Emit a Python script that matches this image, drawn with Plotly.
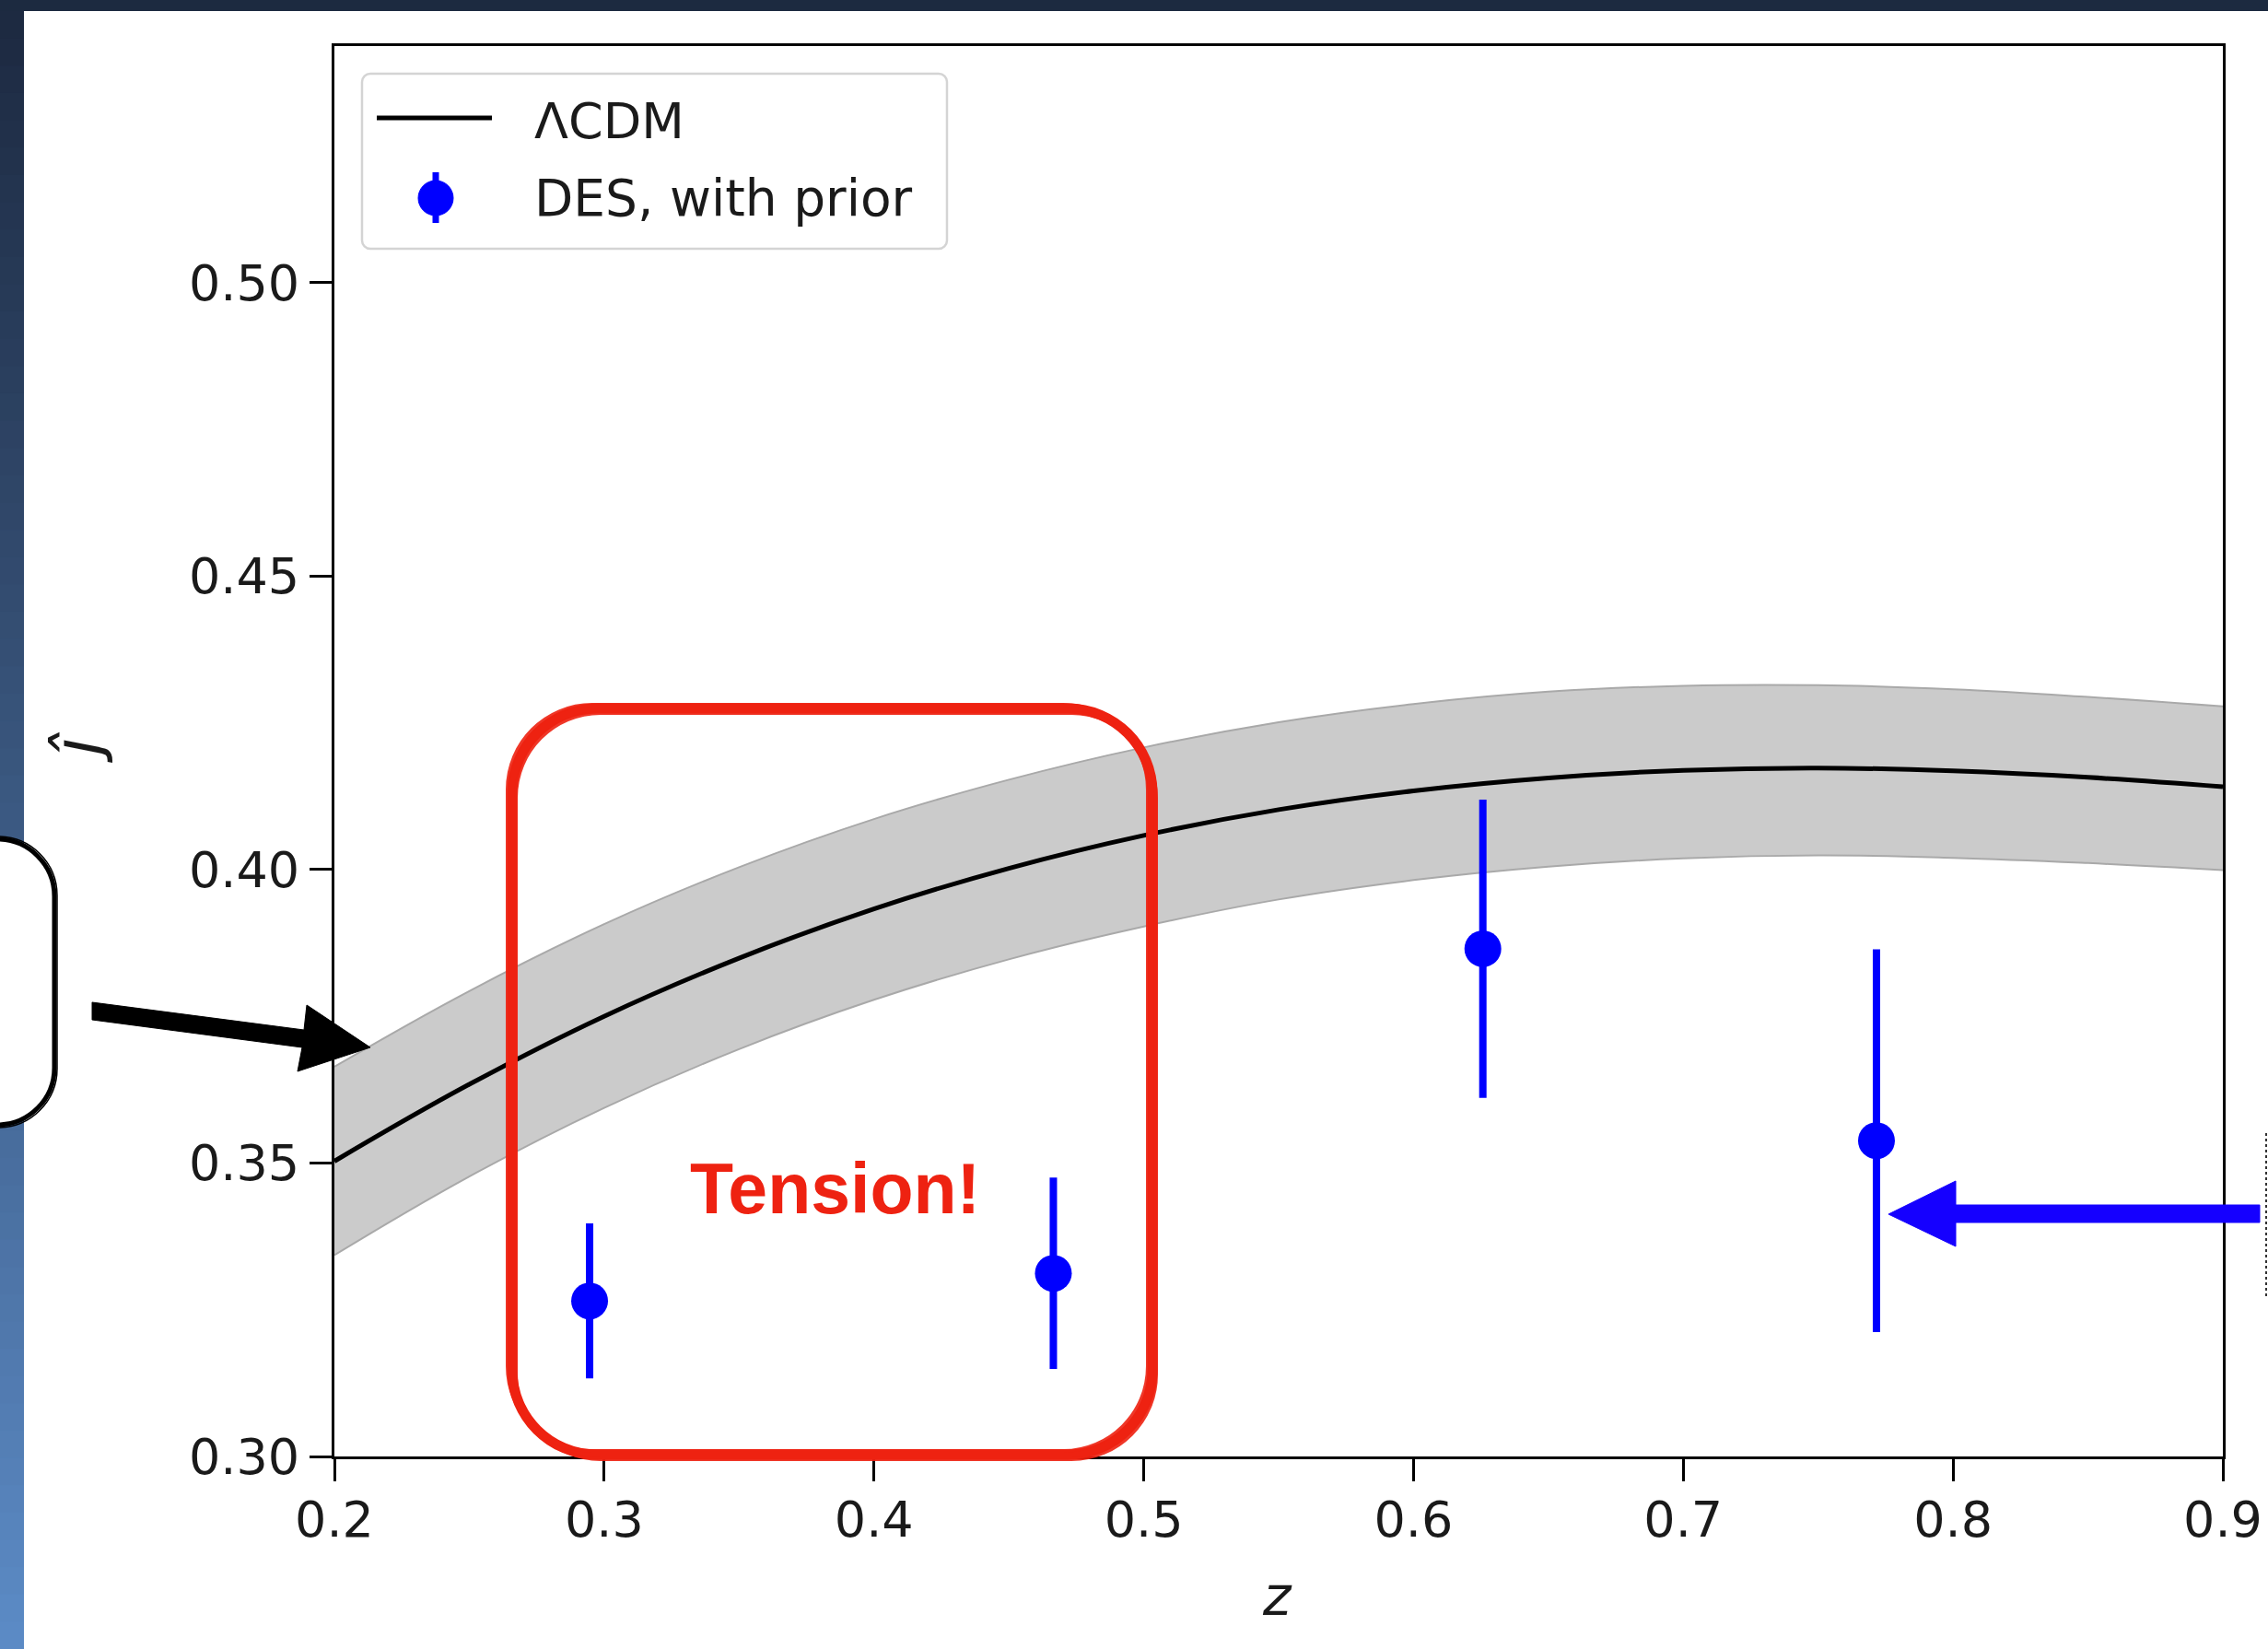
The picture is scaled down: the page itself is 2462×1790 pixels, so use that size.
import plotly.graph_objects as go

# ---------------- data ----------------
z_model = [0.20, 0.25, 0.30, 0.35, 0.40, 0.45, 0.50, 0.55, 0.60, 0.65, 0.70, 0.75, 0.80, 0.85, 0.90]
j_model = [0.3503, 0.3634, 0.3750, 0.3849, 0.3933, 0.4002, 0.4058, 0.4102, 0.4134, 0.4156, 0.4169, 0.4173, 0.4168, 0.4157, 0.4141]
j_upper = [0.3664, 0.3793, 0.3907, 0.4004, 0.4086, 0.4153, 0.4208, 0.4251, 0.4282, 0.4303, 0.4313, 0.4314, 0.4307, 0.4294, 0.4278]
j_lower = [0.3343, 0.3477, 0.3594, 0.3694, 0.3778, 0.3847, 0.3903, 0.3949, 0.3982, 0.4005, 0.4019, 0.4024, 0.4020, 0.4011, 0.3999]

z_des = [0.2946, 0.4665, 0.6257, 0.7716]
j_des = [0.3265, 0.3312, 0.3865, 0.3538]
j_des_err = [0.0132, 0.0163, 0.0254, 0.0326]

x_ticks = [0.2, 0.3, 0.4, 0.5, 0.6, 0.7, 0.8, 0.9]
x_tick_labels = ["0.2", "0.3", "0.4", "0.5", "0.6", "0.7", "0.8", "0.9"]
y_ticks = [0.30, 0.35, 0.40, 0.45, 0.50]
y_tick_labels = ["0.30", "0.35", "0.40", "0.45", "0.50"]

legend_labels = ["ΛCDM", "DES, with prior"]
note_text = "Tension!"

# ---------------- geometry ----------------
W, H = 2462, 1790
PL, PR, PT, PB = 363, 2413, 50, 1581
FONT = "DejaVu Sans"


def X(px):
    return (px - PL) / (PR - PL)


def Y(py):
    return (PB - py) / (PB - PT)


def rrect(x0, y0, x1, y1, r, dx=0.0, dy=0.0):
    k = 0.5523 * r
    x0 += dx; x1 += dx; y0 += dy; y1 += dy
    pts = [
        ("M", [(x0 + r, y0)]),
        ("L", [(x1 - r, y0)]),
        ("C", [(x1 - r + k, y0), (x1, y0 + r - k), (x1, y0 + r)]),
        ("L", [(x1, y1 - r)]),
        ("C", [(x1, y1 - r + k), (x1 - r + k, y1), (x1 - r, y1)]),
        ("L", [(x0 + r, y1)]),
        ("C", [(x0 + r - k, y1), (x0, y1 - r + k), (x0, y1 - r)]),
        ("L", [(x0, y0 + r)]),
        ("C", [(x0, y0 + r - k), (x0 + r - k, y0), (x0 + r, y0)]),
    ]
    s = ""
    for cmd, ps in pts:
        s += cmd + " " + " ".join(f"{X(a):.5f},{Y(b):.5f}" for a, b in ps) + " "
    return s + "Z"


def poly(points):
    s = "M " + " L ".join(f"{X(a):.5f},{Y(b):.5f}" for a, b in points)
    return s + " Z"


shapes = []

# slide background strips
shapes.append(dict(type="rect", xref="paper", yref="paper", x0=X(0), x1=X(W), y0=Y(0), y1=Y(12),
                   fillcolor="#1c2a40", line=dict(width=0), layer="above"))
N = 60
c0 = (28, 41, 64)
c1 = (92, 139, 198)
for i in range(N):
    ya = 12 + (H - 12) * i / N
    yb = 12 + (H - 12) * (i + 1) / N + 1
    t = (i + 0.5) / N
    col = "rgb(%d,%d,%d)" % tuple(round(c0[k] + (c1[k] - c0[k]) * t) for k in range(3))
    shapes.append(dict(type="rect", xref="paper", yref="paper", x0=X(0), x1=X(26), y0=Y(ya), y1=Y(yb),
                       fillcolor=col, line=dict(width=0), layer="above"))

# black hand-drawn box on the left (partly off-slide)
shapes.append(dict(type="path", xref="paper", yref="paper", path=rrect(-300, 911, 59, 1221, 62),
                   fillcolor="white", line=dict(color="black", width=5), layer="above"))
shapes.append(dict(type="path", xref="paper", yref="paper", path=rrect(-300, 908, 62, 1224, 64),
                   line=dict(color="black", width=1.5), layer="above"))

# black arrow
shapes.append(dict(type="path", xref="paper", yref="paper",
                   path=poly([(100, 1088), (330, 1118), (333, 1091), (402, 1137), (323, 1163), (328, 1137), (100, 1107)]),
                   fillcolor="black", line=dict(color="black", width=1), layer="above"))

# blue arrow
shapes.append(dict(type="path", xref="paper", yref="paper",
                   path=poly([(2453, 1308), (2123, 1308), (2123, 1282), (2050, 1318), (2123, 1353), (2123, 1327), (2453, 1327)]),
                   fillcolor="#1500ff", line=dict(color="#1500ff", width=1), layer="above"))

# faint dashed box edge at the far right
shapes.append(dict(type="line", xref="paper", yref="paper", x0=X(2460), x1=X(2460), y0=Y(1230), y1=Y(1410),
                   line=dict(color="#333333", width=2, dash="dot"), layer="above"))

# red sketchy rounded rectangle
RED = "#ee2211"
shapes.append(dict(type="path", xref="paper", yref="paper", path=rrect(556, 769, 1251, 1579, 92),
                   line=dict(color=RED, width=11), layer="above"))
shapes.append(dict(type="path", xref="paper", yref="paper", path=rrect(556, 769, 1251, 1579, 92, dx=-5, dy=-4),
                   line=dict(color=RED, width=4), opacity=0.9, layer="above"))
shapes.append(dict(type="path", xref="paper", yref="paper", path=rrect(556, 769, 1251, 1579, 92, dx=4, dy=5),
                   line=dict(color=RED, width=4), opacity=0.9, layer="above"))

# manual legend
shapes.append(dict(type="path", xref="paper", yref="paper", path=rrect(393, 80, 1028, 270, 9),
                   fillcolor="rgba(255,255,255,0.85)", line=dict(color="#d4d4d4", width=2.5), layer="above"))
shapes.append(dict(type="line", xref="paper", yref="paper", x0=X(409), x1=X(534), y0=Y(128), y1=Y(128),
                   line=dict(color="black", width=5), layer="above"))
shapes.append(dict(type="line", xref="paper", yref="paper", x0=X(473), x1=X(473), y0=Y(187), y1=Y(242),
                   line=dict(color="#0000ff", width=7), layer="above"))
shapes.append(dict(type="circle", xref="paper", yref="paper", x0=X(454), x1=X(492), y0=Y(196), y1=Y(234),
                   fillcolor="#0000ff", line=dict(color="#0000ff", width=1), layer="above"))

annotations = [
    dict(xref="paper", yref="paper", x=X(578), y=Y(131), xanchor="left", yanchor="middle", showarrow=False,
         text=legend_labels[0], font=dict(family=FONT, size=54, color="#1a1a1a")),
    dict(xref="paper", yref="paper", x=X(578), y=Y(215), xanchor="left", yanchor="middle", showarrow=False,
         text=legend_labels[1], font=dict(family=FONT, size=55, color="#1a1a1a")),
    dict(xref="paper", yref="paper", x=X(906), y=Y(1290), xanchor="center", yanchor="middle", showarrow=False,
         text="<b>" + note_text + "</b>", font=dict(family="Liberation Sans", size=77, color=RED)),
    dict(xref="paper", yref="paper", x=X(1386), y=Y(1733), xanchor="center", yanchor="middle", showarrow=False,
         text="<i>z</i>", font=dict(family=FONT, size=58, color="#1a1a1a")),
    dict(xref="paper", yref="paper", x=X(84), y=Y(811), xanchor="center", yanchor="middle", showarrow=False,
         text="<i>ĵ</i>", textangle=-90, font=dict(family=FONT, size=70, color="#1a1a1a")),
]

fig = go.Figure()
fig.add_trace(go.Scatter(x=z_model, y=j_lower, mode="lines",
                         line=dict(color="#a9a9a9", width=2, shape="spline", smoothing=1.2),
                         showlegend=False, hoverinfo="skip"))
fig.add_trace(go.Scatter(x=z_model, y=j_upper, mode="lines",
                         line=dict(color="#a9a9a9", width=2, shape="spline", smoothing=1.2),
                         fill="tonexty", fillcolor="#cbcbcb", showlegend=False, hoverinfo="skip"))
fig.add_trace(go.Scatter(x=z_model, y=j_model, mode="lines", name=legend_labels[0],
                         line=dict(color="black", width=5, shape="spline", smoothing=1.2), showlegend=False))
fig.add_trace(go.Scatter(x=z_des, y=j_des, mode="markers", name=legend_labels[1],
                         marker=dict(color="#0000ff", size=40, line=dict(width=0)),
                         error_y=dict(type="data", array=j_des_err, thickness=8, width=0, color="#0000ff"),
                         showlegend=False))

axis_common = dict(showgrid=False, zeroline=False, showline=True, mirror=True, linecolor="black", linewidth=3,
                   ticks="outside", tickcolor="black", tickwidth=2.5, ticklen=24, automargin=False,
                   tickfont=dict(family=FONT, size=54, color="#1a1a1a"))

fig.update_layout(
    width=W, height=H, autosize=False,
    margin=dict(l=PL, r=W - PR, t=PT, b=H - PB, pad=0, autoexpand=False),
    paper_bgcolor="white", plot_bgcolor="white",
    xaxis=dict(range=[0.2, 0.9], tickvals=x_ticks, ticktext=x_tick_labels, ticklabelstandoff=-5, **axis_common),
    yaxis=dict(range=[0.30, 0.5403], tickvals=y_ticks, ticktext=y_tick_labels, **axis_common),
    shapes=shapes, annotations=annotations, showlegend=False,
)

fig.write_html("out.html", config={"displayModeBar": False, "responsive": False},
               post_script="document.body.style.margin='0px';")
